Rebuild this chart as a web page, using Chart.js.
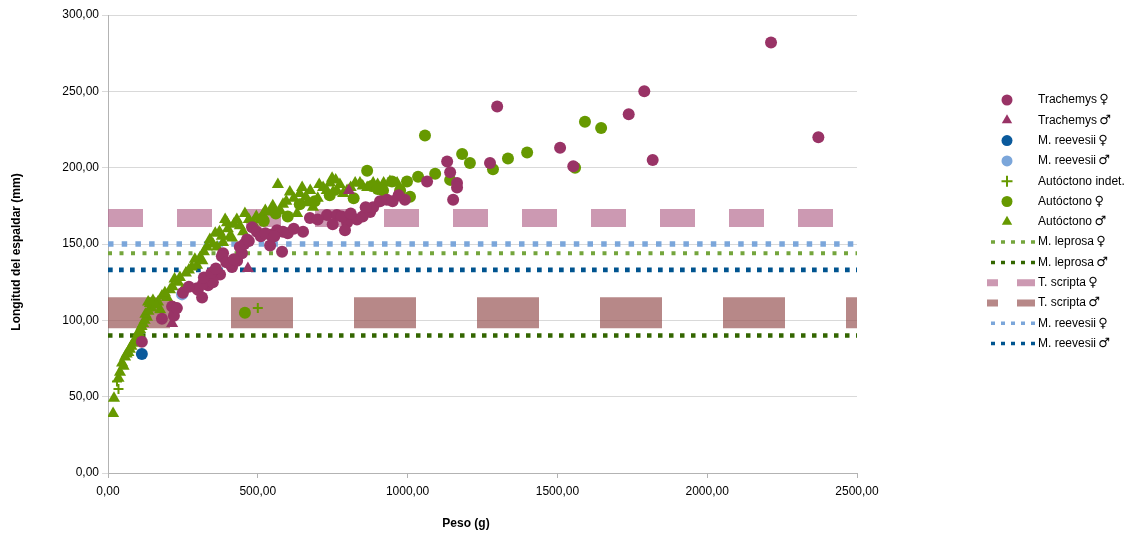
<!DOCTYPE html>
<html>
<head>
<meta charset="utf-8">
<script src="https://cdn.jsdelivr.net/npm/chart.js@4.4.0/dist/chart.umd.min.js"></script>
<style>
  html, body { margin: 0; padding: 0; background: #fff; }
  #wrap { width: 1148px; height: 535px; }
</style>
</head>
<body>
<div id="wrap"><canvas id="chart"></canvas></div>
<script>
// --- data: [peso (g), longitud (mm)] ---
const trachemysF = [[113,86],[180,101],[214,109],[220,103],[230,108],[300,120],[314,115],[334,123],[374,130],[384,144],
  [414,135],[297,121],[317,124],[350,125],[380,142],[407,137],[431,139],[447,144],[464,153],[481,161],[497,158],
  [541,156],[564,159],[584,158],[581,145],[541,149],[651,158],[674,167],[731,169],[764,169],[798,164],[791,159],
  [831,166],[875,171],[885,174],[908,178],[931,179],[991,179],[1065,191],[1132,204],[1142,197],[1165,190],
  [1165,187],[1152,179],[1275,203],[1299,240],[1509,213],[1553,201],[1738,235],[1790,250],[1818,205],[2213,282],[2371,220],
  [250,118],[270,122],[320,128],[345,131],[360,134],[395,138],[420,140],[440,148],[455,150],[470,152],[510,155],
  [525,157],[555,155],[600,157],[620,160],[700,166],[750,163],[780,168],[810,170],[850,168],[860,174],[950,178],[970,182]];
const trachemysM = [[214,98],[467,134],[804,185]];
const reevesiiF = [[113,78]];
const reevesiiM = [[247,117]];
const autoIndet = [[30,60],[35,55],[500,108]];
const autoF = [[457,105],[865,198],[918,185],[948,191],[975,185],[998,191],[1008,181],[1035,194],[1058,221],[1092,196],
  [1142,192],[1182,209],[1208,203],[1285,199],[1335,206],[1399,210],[1559,200],[1592,230],[1646,226],[740,182],
  [640,176],[560,170],[880,188],[520,165],[600,168],[690,178],[820,180],[900,186]];
const autoM = [[17,39],[20,49],[47,72],[57,76],[73,81],[83,85],[97,89],[107,94],[117,98],[130,102],[140,111],[134,112],
  [167,112],[174,107],[197,115],[207,120],[234,125],[250,120],[297,136],[307,141],[330,148],[340,153],[364,148],
  [384,151],[414,154],[391,166],[397,164],[407,155],[457,170],[451,158],[484,164],[507,166],[517,169],[541,171],
  [567,189],[584,176],[607,184],[631,170],[648,187],[664,177],[684,174],[718,187],[741,190],[748,193],[751,184],
  [764,185],[774,189],[798,185],[841,190],[865,187],[885,190],[941,191],[965,190],
  [35,62],[40,66],[52,70],[62,78],[68,79],[78,83],[90,87],[102,92],[112,96],[122,100],[125,104],[135,106],[145,108],
  [150,113],[160,110],[180,116],[190,118],[215,122],[222,127],[240,128],[260,131],[270,133],[280,135],[290,140],
  [315,139],[320,145],[350,150],[358,157],[372,158],[380,155],[400,160],[420,163],[430,166],[440,162],[470,166],
  [495,168],[525,172],[550,175],[575,172],[595,178],[620,180],[640,183],[660,181],[675,185],[700,180],[705,189],
  [730,185],[760,192],[785,183],[810,187],[825,190],[850,188],[900,189],[920,190]];

// reference lengths (horizontal lines)
const refLabels = ['M. leprosa ♀', 'M. leprosa ♂', 'T. scripta ♀', 'T. scripta ♂', 'M. reevesii ♀', 'M. reevesii ♂'];
const refValues = [144, 90, 167, 105, 150, 133];
const xRange = [0, 2500];

const xTicks = [0, 500, 1000, 1500, 2000, 2500];
const yTicks = [0, 50, 100, 150, 200, 250, 300];

const fmt = v => v.toFixed(2).replace('.', ',');
const toXY = arr => arr.map(p => ({ x: p[0], y: p[1] }));

const PURPLE = '#993366', GREEN = '#669900';
const FONT = '"Liberation Sans", Arial, sans-serif';
const SYMFONT = 'bold 13px "DejaVu Sans", sans-serif';

const pointSets = [
  { label: 'Trachemys ♀', data: toXY(trachemysF), color: PURPLE, style: 'circle', r: 6 },
  { label: 'Trachemys ♂', data: toXY(trachemysM), color: PURPLE, style: 'triangle', r: 7 },
  { label: 'M. reevesii ♀', data: toXY(reevesiiF), color: '#0a5a9c', style: 'circle', r: 6 },
  { label: 'M. reevesii ♂', data: toXY(reevesiiM), color: '#7ba6da', style: 'circle', r: 6 },
  { label: 'Autóctono indet.', data: toXY(autoIndet), color: GREEN, style: 'cross', r: 5 },
  { label: 'Autóctono ♀', data: toXY(autoF), color: GREEN, style: 'circle', r: 6 },
  { label: 'Autóctono ♂', data: toXY(autoM), color: GREEN, style: 'triangle', r: 7 }
];

// line styles for the reference series, same order as refLabels
const refStyles = [
  { color: '#74a53c', width: 4, dash: [4, 7.5], legDash: [4, 6], legW: 3.5 },
  { color: '#336600', width: 4.5, dash: [4.5, 6.5], legDash: [4, 6], legW: 3.5 },
  { color: 'rgba(182,109,146,0.7)', width: 18, dash: [35, 34], legDash: [18, 19], legW: 7 },
  { color: 'rgba(153,85,85,0.7)', width: 31, dash: [62, 61], legDash: [18, 19], legW: 7 },
  { color: '#7ba6da', width: 5.5, dash: [5.5, 8.2], legDash: [4, 6], legW: 3.5 },
  { color: '#00548f', width: 4.7, dash: [4.7, 6.3], legDash: [4, 6], legW: 3.5 }
];

const datasets = [];
pointSets.forEach(s => datasets.push({
  label: s.label, data: s.data, order: 0,
  pointStyle: s.style, pointRadius: s.r, pointHoverRadius: s.r,
  backgroundColor: s.color, borderColor: s.color,
  pointBorderWidth: s.style === 'cross' ? 2 : 0
}));
refLabels.forEach((lab, i) => {
  const st = refStyles[i];
  datasets.push({
    label: lab, order: 1, showLine: true,
    data: xRange.map(x => ({ x: x, y: refValues[i] })),
    borderColor: st.color, borderWidth: st.width, borderDash: st.dash,
    borderCapStyle: 'butt', pointRadius: 0, pointHoverRadius: 0, fill: false
  });
});

function drawMarker(ctx, style, x, y, r, color) {
  ctx.save();
  ctx.fillStyle = color; ctx.strokeStyle = color;
  ctx.beginPath();
  if (style === 'circle') {
    ctx.arc(x, y, r, 0, Math.PI * 2); ctx.fill();
  } else if (style === 'triangle') {
    ctx.moveTo(x, y - r);
    ctx.lineTo(x + r * 0.866, y + r * 0.5);
    ctx.lineTo(x - r * 0.866, y + r * 0.5);
    ctx.closePath(); ctx.fill();
  } else {
    ctx.lineWidth = 2;
    ctx.moveTo(x - r, y); ctx.lineTo(x + r, y);
    ctx.moveTo(x, y - r); ctx.lineTo(x, y + r);
    ctx.stroke();
  }
  ctx.restore();
}

// label text, with the ♀/♂ sign drawn a bit larger as in the original
function drawLabel(ctx, text, x, y) {
  const last = text.slice(-1);
  if (last === '♀' || last === '♂') {
    const base = text.slice(0, -1);
    ctx.fillText(base, x, y);
    const w = ctx.measureText(base).width;
    ctx.save();
    ctx.font = SYMFONT;
    ctx.fillText(last, x + w - 1, y);
    ctx.restore();
  } else {
    ctx.fillText(text, x, y);
  }
}

const sideLegend = {
  id: 'sideLegend',
  afterDraw(chart) {
    const ctx = chart.ctx;
    const a = chart.chartArea;
    const mx = a.right + 150, tx = a.right + 181;
    const y0 = a.top + 85, step = 20.3;
    ctx.save();
    ctx.font = '12px ' + FONT;
    ctx.fillStyle = '#000';
    ctx.textBaseline = 'middle';
    let row = 0;
    pointSets.forEach(s => {
      const y = y0 + step * row++;
      drawMarker(ctx, s.style, mx, y, s.style === 'triangle' ? 6 : 5.5, s.color);
      drawLabel(ctx, s.label, tx, y);
    });
    refLabels.forEach((lab, i) => {
      const y = y0 + step * row++;
      const st = refStyles[i];
      ctx.save();
      ctx.strokeStyle = st.color; ctx.lineWidth = st.legW;
      ctx.setLineDash(st.legDash);
      ctx.beginPath();
      ctx.moveTo(a.right + 178, y); ctx.lineTo(a.right + 130, y);
      ctx.stroke();
      ctx.restore();
      drawLabel(ctx, lab, tx, y);
    });
    // axis titles
    ctx.font = 'bold 12px ' + FONT;
    ctx.textAlign = 'center';
    ctx.fillText('Peso (g)', 466, 524);
    ctx.translate(17, 252);
    ctx.rotate(-Math.PI / 2);
    ctx.fillText('Longitud del espaldar (mm)', 0, 0);
    ctx.restore();
  }
};

new Chart(document.getElementById('chart'), {
  type: 'scatter',
  data: { datasets: datasets },
  options: {
    responsive: true,
    maintainAspectRatio: false,
    animation: false,
    layout: { padding: { left: 0, right: 291, top: 15, bottom: 0 } },
    plugins: { legend: { display: false }, tooltip: { enabled: false } },
    scales: {
      x: {
        type: 'linear', min: xRange[0], max: xRange[1],
        afterFit: s => { s.height = 62; },
        afterBuildTicks: s => { s.ticks = xTicks.map(v => ({ value: v })); },
        ticks: { callback: v => fmt(v), color: '#000', padding: 6, maxRotation: 0,
                 font: { family: FONT, size: 12 } },
        grid: { drawOnChartArea: false, drawTicks: true, tickLength: 5, color: '#b3b3b3' },
        border: { color: '#b3b3b3' }
      },
      y: {
        min: 0, max: 300,
        afterFit: s => { s.width = 108; },
        afterBuildTicks: s => { s.ticks = yTicks.map(v => ({ value: v })); },
        ticks: { callback: v => fmt(v), color: '#000', padding: 3,
                 font: { family: FONT, size: 12 } },
        grid: { color: '#d9d9d9', tickLength: 6 },
        border: { color: '#b3b3b3' }
      }
    }
  },
  plugins: [sideLegend]
});
</script>
</body>
</html>
